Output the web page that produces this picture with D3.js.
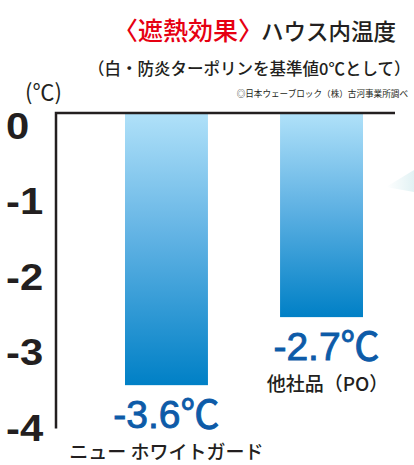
<!DOCTYPE html>
<html>
<head>
<meta charset="utf-8">
<script src="https://cdn.jsdelivr.net/npm/d3@7"></script>
<style>
  html, body { margin: 0; padding: 0; background: #fff; }
  svg { display: block; }
  .jp { font-family: "Noto Sans CJK JP", "Noto Sans", sans-serif; }
  .num { font-family: "Liberation Sans", Arial, "Noto Sans CJK JP", sans-serif; }
</style>
</head>
<body>
<div id="chart"></div>
<script>
// ── Data ──────────────────────────────────────────────────────────────────────
const categories  = ['ニュー ホワイトガード', '他社品（PO）'];
const values      = [-3.6, -2.7];
const valueLabels = ['-3.6℃', '-2.7℃'];
const ticks       = [0, -1, -2, -3, -4];

// ── Layout ────────────────────────────────────────────────────────────────────
const W = 414, H = 465;

const svg = d3.select('#chart').append('svg')
  .attr('width', W)
  .attr('height', H);

const defs = svg.append('defs');
const grad = defs.append('linearGradient')
  .attr('id', 'barGrad')
  .attr('x1', 0).attr('y1', 0).attr('x2', 0).attr('y2', 1);
grad.append('stop').attr('offset', '0%').attr('stop-color', '#b0e1f9');
grad.append('stop').attr('offset', '45%').attr('stop-color', '#62b3e4');
grad.append('stop').attr('offset', '100%').attr('stop-color', '#0080c6');

const deco = defs.append('linearGradient')
  .attr('id', 'decoGrad')
  .attr('x1', 0).attr('y1', 0).attr('x2', 1).attr('y2', 0);
deco.append('stop').attr('offset', '0%').attr('stop-color', '#ffffff');
deco.append('stop').attr('offset', '100%').attr('stop-color', '#e2f2f4');

// faint background shape at right edge
svg.append('polygon')
  .attr('points', '386,187 414,170 414,192')
  .attr('fill', 'url(#decoGrad)');

// ── Scales ────────────────────────────────────────────────────────────────────
const y = d3.scaleLinear().domain([0, -4]).range([113, 415.4]);
const x = d3.scaleBand().domain(categories).range([125, 363])
  .paddingInner(0.465).paddingOuter(0);

// ── Titles ────────────────────────────────────────────────────────────────────
const title = svg.append('text')
  .attr('class', 'jp')
  .attr('x', 113).attr('y', 40)
  .attr('font-weight', 500);
title.append('tspan').attr('fill', '#e60012').attr('font-size', 25).text('〈遮熱効果〉');
title.append('tspan').attr('fill', '#231f20').attr('font-size', 22.5).attr('dx', -2).text('ハウス内温度');

svg.append('text')
  .attr('class', 'jp')
  .attr('x', 88).attr('y', 75)
  .attr('font-size', 16.5)
  .attr('font-weight', 500)
  .attr('fill', '#231f20')
  .text('（白・防炎ターポリンを基準値0℃として）');

svg.append('text')
  .attr('class', 'jp')
  .attr('x', 408).attr('y', 97)
  .attr('text-anchor', 'end')
  .attr('font-size', 8.6)
  .attr('fill', '#231f20')
  .text('◎日本ウェーブロック（株）古河事業所調べ');

svg.append('text')
  .attr('class', 'jp')
  .attr('x', 25).attr('y', 100)
  .attr('font-size', 22)
  .attr('fill', '#231f20')
  .text('(℃)');

// ── Bars ──────────────────────────────────────────────────────────────────────
svg.selectAll('rect.bar')
  .data(values)
  .enter().append('rect')
  .attr('class', 'bar')
  .attr('x', (d, i) => x(categories[i]))
  .attr('y', y(0))
  .attr('width', x.bandwidth())
  .attr('height', d => y(d) - y(0))
  .attr('fill', 'url(#barGrad)');

// ── Axis lines ────────────────────────────────────────────────────────────────
svg.append('path')
  .attr('d', `M56,${y(-4) + 13}V${y(0)}H395`)
  .attr('fill', 'none')
  .attr('stroke', '#231f20')
  .attr('stroke-width', 2.5);

// ── Tick labels ───────────────────────────────────────────────────────────────
svg.selectAll('text.tick')
  .data(ticks)
  .enter().append('text')
  .attr('class', 'tick num')
  .attr('transform', d => `translate(6,${y(d) + 25.5}) scale(1.13,1)`)
  .attr('font-size', 37)
  .attr('font-weight', 'bold')
  .attr('fill', '#231f20')
  .text(d => d === 0 ? '0' : String(d));

// ── Value and category labels ─────────────────────────────────────────────────
svg.selectAll('text.val')
  .data(values)
  .enter().append('text')
  .attr('class', 'val num')
  .attr('x', (d, i) => x(categories[i]) + x.bandwidth() / 2 + (i ? 5 : 0))
  .attr('y', d => y(d) + 43)
  .attr('text-anchor', 'middle')
  .attr('font-size', 39)
  .attr('fill', '#0d5ba8')
  .attr('stroke', '#0d5ba8')
  .attr('stroke-width', 0.9)
  .text((d, i) => valueLabels[i]);

svg.selectAll('text.cat')
  .data(values)
  .enter().append('text')
  .attr('class', 'cat jp')
  .attr('x', (d, i) => x(categories[i]) + x.bandwidth() / 2 + (i ? 6 : 0))
  .attr('y', d => y(d) + 74)
  .attr('text-anchor', 'middle')
  .attr('font-size', 19)
  .attr('font-weight', 500)
  .attr('fill', '#231f20')
  .text((d, i) => categories[i]);
</script>
</body>
</html>
